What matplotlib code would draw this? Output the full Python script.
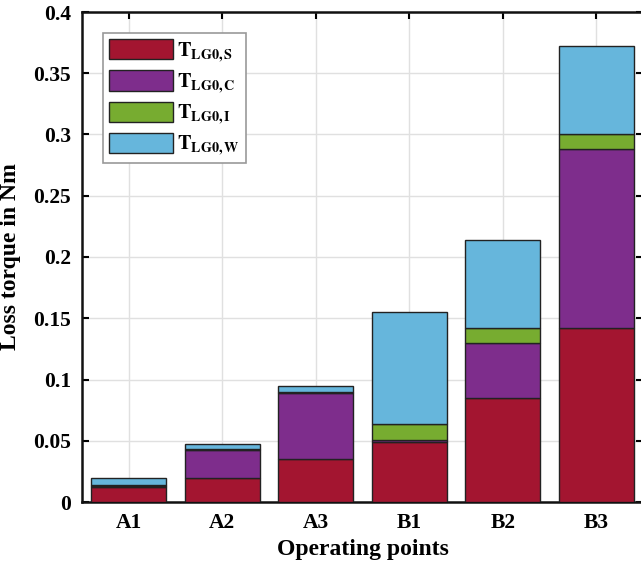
import numpy as np
import matplotlib
matplotlib.use('Agg')
import matplotlib.pyplot as plt

# operating points and loss components (Nm)
points = ['A1', 'A2', 'A3', 'B1', 'B2', 'B3']
t_s = [0.0120, 0.0200, 0.0355, 0.0487, 0.0847, 0.1418]
t_c = [0.0012, 0.0225, 0.0535, 0.0023, 0.0451, 0.1464]
t_i = [0.0005, 0.0008, 0.0005, 0.0124, 0.0120, 0.0120]
t_w = [0.0058, 0.0042, 0.0050, 0.0915, 0.0723, 0.0723]

labels = [r'$\mathbf{T_{LG0,S}}$', r'$\mathbf{T_{LG0,C}}$',
          r'$\mathbf{T_{LG0,I}}$', r'$\mathbf{T_{LG0,W}}$']
colors = ['#A31530', '#7E2D8C', '#77AC30', '#66B6DC']

plt.rcParams['font.family'] = ['Liberation Serif', 'DejaVu Serif']
plt.rcParams['font.weight'] = 'bold'
plt.rcParams['mathtext.fontset'] = 'stix'

fig = plt.figure(figsize=(6.41, 5.70), dpi=100)
ax = fig.add_axes([82 / 641, (570 - 502) / 570, 561 / 641, 490 / 570])

x = np.arange(1, len(points) + 1)
bottom = np.zeros(len(points))
for vals, lab, col in zip([t_s, t_c, t_i, t_w], labels, colors):
    ax.bar(x, vals, 0.8, bottom=bottom, color=col, edgecolor='#222222',
           linewidth=1.0, label=lab, zorder=3)
    bottom += np.array(vals)

ax.set_xlim(0.5, 6.5)
ax.set_ylim(0, 0.4)
ax.set_xticks(x)
ax.set_xticklabels(points)
ax.set_yticks(np.arange(0, 0.41, 0.05))
ax.set_yticklabels(['0', '0.05', '0.1', '0.15', '0.2', '0.25', '0.3', '0.35', '0.4'])
ax.tick_params(direction='in', length=5, width=1.5, labelsize=15.5,
               top=True, right=True, pad=8)
for lab in ax.get_xticklabels() + ax.get_yticklabels():
    lab.set_fontweight('bold')
for sp in ax.spines.values():
    sp.set_linewidth(1.8)
    sp.set_color('#111111')
ax.grid(True, color='#e0e0e0', linewidth=1.0, zorder=0)
ax.set_axisbelow(True)

ax.set_xlabel('Operating points', fontsize=17, fontweight='bold', labelpad=4)
ax.set_ylabel('Loss torque in Nm', fontsize=17, fontweight='bold', labelpad=9)

leg = ax.legend(loc='upper left', bbox_to_anchor=(0.037, 0.957), fontsize=14.5,
                handlelength=3.2, handleheight=1.18, labelspacing=0.33,
                borderpad=0.3, handletextpad=0.2, fancybox=False,
                framealpha=1, edgecolor='#999999', borderaxespad=0)
leg.get_frame().set_linewidth(1.2)

fig.savefig('out.png', dpi=100)
